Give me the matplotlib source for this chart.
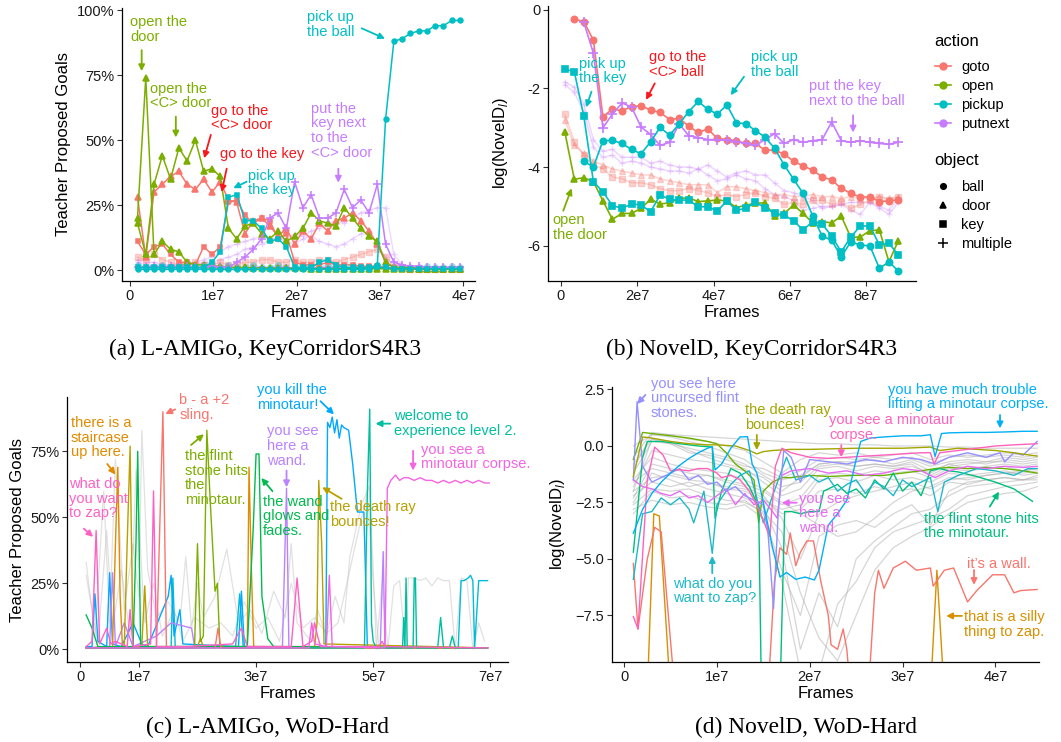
import numpy as np
import matplotlib
matplotlib.use("Agg")
import matplotlib.pyplot as plt
from matplotlib.lines import Line2D
from matplotlib.ticker import FuncFormatter

plt.rcParams['font.family'] = ['Liberation Sans', 'DejaVu Sans']
plt.rcParams['mathtext.fontset'] = 'custom'
plt.rcParams['mathtext.rm'] = 'Liberation Sans'
plt.rcParams['mathtext.it'] = 'Liberation Sans:italic'

GOTO, OPEN, PICKUP, PUTNEXT = "#F8766D", "#7CAE00", "#00BFC4", "#C77CFF"
GRAY = "#BDBDBD"

# ---------------- (a) L-AMIGo, KeyCorridorS4R3  (frames in 1e7, values in %)
frames_a = np.linspace(0.09, 3.96, 40)
a_open_door = [20, 74, 6, 11, 8, 7, 3, 2, 2, 1.5, 1.5, 1, 1, 1, 0.8, 0.8, 0.8, 0.7, 0.7, 0.7,
               0.7, 0.6, 0.6, 0.6, 0.6, 0.6, 0.5, 0.5, 0.5, 0.5, 0.5, 0.4, 0.4, 0.4, 0.4, 0.4, 0.3, 0.3, 0.3, 0.3]
a_open_cdoor = [18, 6, 33, 44, 35, 47, 42, 50, 38, 39, 36, 16, 12, 17, 18, 14, 12, 15, 11, 13,
                16, 22, 19, 18, 17, 24, 20, 16, 13, 11, 3, 1, 1, 0.8, 0.6, 0.5, 0.5, 0.4, 0.4, 0.4]
a_goto_cdoor = [28, 5, 30, 33, 36, 38, 33, 31, 35, 30, 34, 27, 26, 14, 19, 20, 17, 13, 16, 10,
                15, 12, 18, 15, 19, 20, 22, 19, 15, 10, 3, 1, 0.8, 0.6, 0.5, 0.5, 0.4, 0.4, 0.4, 0.4]
a_goto_key = [11, 6, 9, 10, 6, 3, 3, 2, 9, 6, 9, 26, 27, 21, 18, 20, 19, 12, 14, 3,
              2, 2, 2, 3, 2, 2, 2, 1.5, 1.5, 1.5, 1, 0.8, 0.5, 0.5, 0.5, 0.4, 0.4, 0.4, 0.4, 0.4]
a_pick_key = [1, 1, 1, 1, 1, 1, 1, 1, 1, 3, 7, 28, 29, 19, 19, 16, 11, 12, 9, 1,
              1, 1, 3, 4, 2, 1, 1, 1, 1, 1, 1, 0.5, 0.5, 0.5, 0.5, 0.5, 0.5, 0.5, 0.5, 0.5]
a_pick_ball = [0.3, 0.3, 0.3, 0.3, 0.3, 0.3, 0.3, 0.3, 0.3, 0.3, 0.3, 0.3, 0.3, 0.3, 0.3, 0.3, 0.3, 0.3, 0.3, 0.3,
               0.3, 0.3, 0.3, 0.3, 0.3, 0.3, 0.3, 0.3, 0.5, 2, 58, 88, 89, 91, 92, 92, 94, 94, 96, 96]
a_putnext = [1, 1, 1.5, 1, 1.5, 1, 1.5, 1, 1, 1.5, 1, 1, 3, 5, 8, 12, 20, 22, 16, 34,
             24, 29, 20, 20, 22, 31, 24, 27, 22, 33, 10, 3, 2, 1.5, 1.5, 1, 1, 1, 1, 1]
a_faint_put1 = [4, 3, 3, 2, 2, 2, 2, 2, 3, 3, 4, 5, 6, 8, 9, 10, 11, 12, 12, 14,
                13, 15, 16, 18, 19, 18, 20, 22, 23, 24, 24, 6, 2, 1.5, 1, 1, 1, 1, 1, 1]
a_faint_put2 = [3, 2, 2, 2, 2, 2, 3, 3, 4, 5, 7, 9, 10, 11, 12, 13, 12, 12, 11, 10,
                12, 13, 11, 10, 9, 10, 12, 14, 15, 10, 5, 2, 1.5, 1, 1, 1, 1, 1, 1, 1]
a_faint_goto = [5, 4, 6, 4, 3, 2, 2, 3, 2, 2, 3, 2, 2, 3, 3, 4, 4, 3, 3, 4,
                3, 3, 4, 4, 3, 4, 5, 6, 7, 8, 5, 1, 1, 0.5, 0.5, 0.5, 0.5, 0.5, 0.5, 0.5]
a_faint_pick = [2, 1, 1, 2, 1, 2, 2, 1, 2, 2, 1, 2, 1, 1, 2, 1, 1, 2, 1, 1,
                2, 1, 1, 2, 1, 1, 2, 1, 1, 2, 1, 1, 1, 1, 1, 1.5, 1, 1, 1.5, 1]
a_low_put = [1, 1, 0.8, 1, 0.9, 1, 1, 0.8, 1, 1, 0.9, 1, 1, 0.8, 1, 1, 0.9, 1, 1, 0.8,
             1, 1, 0.9, 1, 1, 0.8, 1, 1, 0.9, 1, 1, 0.8, 0.8, 0.7, 0.8, 0.7, 0.6, 0.7, 0.6, 0.6]

# ---------------- (b) NovelD, KeyCorridorS4R3  (frames in 1e7, log values)
frames_b = np.linspace(0.1, 8.85, 36)
nan = np.nan
b_goto_ball = [nan, -0.23, -0.30, -0.77, -2.72, -2.52, -2.57, -2.46, -2.44, -2.55, -2.61, -2.79,
               -2.76, -2.96, -3.12, -3.03, -3.27, -3.30, -3.33, -3.40, -3.40, -3.57, -3.57, -3.67,
               -3.85, -3.97, -4.08, -4.25, -4.33, -4.54, -4.67, -4.76, -4.76, -4.88, -4.86, -4.83]
b_putnext = [nan, nan, -0.32, -1.1, -3.0, -2.65, -2.37, -2.47, -2.98, -3.17, -3.45, -3.37,
             -2.9, -3.2, -3.25, -3.3, -3.3, -3.32, -3.35, -3.4, -3.45, -3.3, -3.15, -3.4,
             -3.3, -3.37, -3.33, -3.3, -2.85, -3.33, -3.37, -3.33, -3.37, -3.4, -3.42, -3.37]
b_pick_ball = [nan, nan, -3.85, -4.0, -3.33, -3.32, -3.4, -3.55, -3.66, -3.36, -2.99, -3.19,
               -2.9, -2.59, -2.33, -2.53, -2.65, -2.42, -2.87, -2.9, -3.07, -3.24, -3.52, -3.94,
               -4.31, -4.67, -5.24, -5.76, -5.86, -6.29, -5.9, -5.99, -6.0, -6.58, -6.41, -6.65]
b_pick_key = [-1.51, -1.57, -2.71, -4.37, -4.63, -4.98, -5.05, -4.94, -4.96, -5.14, -4.71, -4.82,
              -4.84, -4.84, -5.01, -5.01, -5.12, -4.86, -5.1, -5.05, -4.9, -5.03, -5.18, -5.22,
              -5.37, -5.6, -5.39, -5.45, -5.76, -6.16, -5.78, -5.5, -5.5, -5.98, -5.94, -6.24]
b_open_door = [-3.1, -4.31, -4.27, -4.37, -4.86, -5.33, -5.18, -5.18, -5.05, -4.82, -4.94, -4.91,
               -4.8, -4.78, -4.88, -4.86, -4.84, -4.86, -5.03, -4.97, -4.92, -4.91, -5.25, -5.18,
               -4.97, -5.18, -5.42, -5.39, -5.42, -5.25, -5.79, -5.78, -5.62, -5.6, -6.41, -5.87]
b_faint_put1 = [-1.83, -1.97, -2.4, -3.3, -3.6, -3.55, -3.75, -3.75, -3.75, -3.9, -3.85, -3.95,
                -4.0, -4.0, -4.05, -3.95, -4.1, -4.25, -4.15, -4.1, -4.2, -4.2, -4.4, -4.6,
                -4.65, -4.75, -4.85, -5.05, -5.0, -4.95, -4.9, -4.9, -4.9, -5.0, -5.1, -4.8]
b_faint_put2 = [-1.9, -2.1, -2.6, -3.5, -3.75, -3.7, -3.9, -3.85, -3.9, -4.0, -4.05, -4.1,
                -4.1, -4.15, -4.05, -4.2, -4.35, -4.3, -4.2, -4.3, -4.35, -4.55, -4.7, -4.75,
                -4.85, -5.1, -5.05, -5.0, -5.0, -4.95, -5.1, -5.2, -4.9, -5.05, -5.2, -4.9]
b_faint_door = [-2.8, -3.45, -3.65, -3.85, -3.95, -4.05, -4.1, -4.15, -4.2, -4.2, -4.3, -4.35,
                -4.4, -4.45, -4.45, -4.45, -4.65, -4.5, -4.5, -4.55, -4.6, -4.65, -4.7, -4.7,
                -4.75, -4.75, -4.7, -4.75, -4.75, -4.8, -4.75, -4.8, -4.8, -4.75, -4.8, -4.75]
b_faint_key = [-2.65, -3.35, -3.7, -3.95, -4.05, -4.25, -4.3, -4.4, -4.4, -4.45, -4.55, -4.6,
               -4.6, -4.55, -4.6, -4.65, -4.75, -4.7, -4.75, -4.7, -4.65, -4.75, -4.8, -4.95,
               -4.9, -4.95, -4.85, -4.85, -4.95, -4.9, -5.05, -4.95, -4.85, -4.75, -4.85, -4.75]

# ---------------- (c) L-AMIGo, WoD-Hard  (frames in 1e7, values in %)
c_zap_x = [0.1, 0.2, 0.27, 0.33, 0.45, 0.52, 0.6, 0.8, 0.85, 0.9, 1.2, 1.25, 1.3, 1.8, 2.6, 2.75, 2.85,
           3.6, 3.7, 3.8, 3.95, 4.0, 4.05, 4.1, 5.1, 5.15, 5.2, 6.95]
c_zap_y = [1, 3, 45, 2, 8, 2, 3, 1, 15, 1, 2, 60, 1, 1, 2, 8, 1, 1, 27, 1, 3, 10, 5, 1, 1, 3, 1, 0.5]
c_stair_x = [0.1, 0.55, 0.6, 0.64, 0.68, 0.72, 2.85, 2.88, 2.92, 2.96, 6.95]
c_stair_y = [0.5, 1, 40, 69, 20, 0.5, 1, 69, 30, 1, 0.5]
c_sling_x = [0.1, 1.3, 1.41, 1.47, 2.3, 2.35, 2.4, 6.95]
c_sling_y = [0.5, 0.5, 90, 0.5, 0.5, 8, 0.5, 0.5]
c_death_x = [0.1, 0.75, 0.8, 0.85, 0.9, 1.05, 1.1, 1.15, 2.0, 2.05, 2.1, 4.0, 4.04, 4.07, 4.12, 4.16, 6.95]
c_death_y = [0.5, 0.5, 40, 77, 1, 1, 24, 1, 1, 4, 1, 1, 10, 64, 40, 2, 0.5]
c_glow_x = [0.1, 0.2, 0.3, 0.9, 0.95, 0.98, 1.03, 2.85, 2.95, 3.0, 3.05, 3.1, 3.2, 3.3, 6.95]
c_glow_y = [13, 8, 1, 1, 40, 75, 1, 1, 45, 74, 74, 20, 4, 1, 0.5]
c_flint_x = [0.1, 1.95, 2.0, 2.05, 2.1, 2.16, 2.22, 2.3, 2.34, 2.38, 2.45, 6.95]
c_flint_y = [0.5, 0.5, 40, 3, 5, 83, 55, 22, 25, 2, 0.5, 0.5]
c_kill_x = [0.1, 0.2, 0.25, 0.3, 0.45, 0.5, 0.55, 0.7, 0.9, 1.05, 1.15, 1.5, 1.55, 1.6, 1.7, 1.75,
            2.7, 2.75, 2.8, 4.15, 4.19, 4.22, 4.26, 4.3, 4.34, 4.38, 4.42, 4.46, 4.5, 4.58, 4.65,
            4.73, 4.84, 4.9, 6.95]
c_kill_y = [1, 1, 21, 3, 1, 29, 2, 1, 10, 2, 1, 20, 28, 5, 15, 2, 1, 22, 1, 0.5, 0.5, 86, 84, 88,
            82, 87, 80, 85, 84, 83, 70, 52, 52, 0.5, 0.5]
c_welcome_x = [0.1, 4.85, 4.9, 4.94, 4.97, 5.0, 5.05, 5.5, 5.52, 5.54, 5.56, 5.58, 5.6, 5.68, 5.7,
               5.72, 5.74, 6.1, 6.15, 6.2, 6.3, 6.35, 6.4, 6.95]
c_welcome_y = [0.5, 0.5, 60, 91, 10, 3, 0.5, 0.5, 12, 0.5, 27, 0.5, 0.5, 0.5, 27, 27, 0.5, 0.5, 12,
               0.5, 0.5, 5, 0.5, 0.5]
c_cyan_x = [0.1, 1.55, 1.58, 1.62, 2.65, 2.72, 2.78, 6.45, 6.5, 6.55, 6.62, 6.66, 6.7, 6.73, 6.8, 6.95]
c_cyan_y = [0.5, 0.5, 27, 1, 1, 21, 1, 0.5, 26, 26, 27, 28, 26, 0.5, 26, 26]
c_wand_x = [0.1, 0.5, 0.55, 0.6, 0.75, 0.9, 1.3, 1.55, 1.9, 1.95, 2.0, 3.45, 3.52, 3.56, 5.12, 5.17, 5.2, 6.95]
c_wand_y = [0.5, 1, 29, 1, 10, 1, 5, 10, 8, 1, 1, 1, 61, 1, 1, 37, 0.5, 0.5]
c_corpse_x = [0.1, 3.9, 3.95, 4.0, 4.2, 4.25, 4.3, 5.2, 5.24, 5.3, 5.38, 5.45, 5.52, 5.6, 5.7, 5.8,
              5.9, 6.0, 6.1, 6.2, 6.3, 6.4, 6.5, 6.6, 6.7, 6.8, 6.9, 6.98]
c_corpse_y = [0.5, 0.5, 10, 2, 1, 28, 1, 0.5, 61, 64, 66, 64, 65, 65, 64, 65, 64, 64, 63, 64, 63,
              64, 63, 64, 63, 64, 63, 63]
c_gray1_x = [0.1, 0.25, 0.4, 0.5, 0.6, 0.75, 0.9, 1.0, 1.05, 1.15, 1.3, 1.5, 1.7, 1.8, 1.9, 2.0,
             2.1, 2.3, 2.5, 2.7, 2.9, 3.1, 3.3, 3.5, 3.6, 3.7, 3.9, 4.1]
c_gray1_y = [33, 5, 60, 10, 72, 15, 40, 20, 83, 30, 12, 18, 10, 35, 8, 25, 12, 20, 38, 10, 15, 6,
             22, 12, 40, 10, 4, 2]
c_gray2_x = [0.1, 0.3, 0.45, 0.55, 0.7, 0.85, 0.95, 1.1, 1.25, 1.4, 1.6, 1.75, 1.95, 2.2, 2.4, 2.6,
             2.8, 3.0, 3.2, 3.4, 3.6, 3.8, 4.0, 4.2, 4.4, 4.6, 4.8, 4.93, 5.0, 5.05]
c_gray2_y = [28, 2, 45, 8, 30, 5, 68, 10, 25, 5, 15, 3, 12, 8, 10, 5, 18, 8, 12, 3, 25, 8, 12, 6,
             10, 30, 50, 62, 30, 2]
c_gray3_x = [5.05, 5.15, 5.25, 5.35, 5.45, 5.55, 5.6, 5.7, 5.8, 5.9, 6.0, 6.1, 6.2, 6.3, 6.4, 6.5,
             6.6, 6.7, 6.8, 6.9]
c_gray3_y = [0, 25, 0, 24, 26, 0, 27, 27, 26, 27, 24, 27, 26, 26, 0, 27, 26, 0, 10, 3]
c_gray4_x = [3.9, 4.05, 4.2, 4.35, 4.5, 4.6, 4.7, 4.8, 4.9, 5.0, 5.1]
c_gray4_y = [2, 15, 5, 20, 10, 35, 45, 55, 60, 25, 0]

# ---------------- (d) NovelD, WoD-Hard  (frames in 1e7, log values)
d_blue_x = [0.1, 0.2, 0.3, 0.4, 0.5, 0.6, 0.7, 0.8, 0.9, 0.95, 0.98, 1.05, 1.15, 1.25, 1.33, 1.38,
            1.43, 1.5, 1.6, 1.68, 1.75, 1.85, 1.95, 2.05, 2.1, 2.2, 2.3, 2.4, 2.5, 2.55, 2.65, 2.8,
            3.0, 3.2, 3.3, 3.35, 3.42, 3.5, 3.7, 3.9, 4.1, 4.3, 4.45]
d_blue_y = [-3.86, -2.8, -2.1, -1.6, -1.2, -0.85, -0.55, -0.3, -0.1, -0.03, -1.06, -0.8, -0.1, 0.4,
            0.41, -0.8, -1.2, -2.5, -4.5, -5.8, -5.6, -5.9, -5.8, -5.93, -5.5, -3.5, -3.0, -2.4,
            -0.6, 0.2, 0.35, 0.4, 0.45, 0.45, 0.5, -0.47, 0.55, 0.58, 0.6, 0.6, 0.62, 0.65, 0.65]
d_olive_x = [0.1, 0.2, 0.3, 0.5, 0.7, 0.9, 1.0, 1.2, 1.35, 1.43, 1.5, 1.6, 1.8, 2.0, 2.5, 3.0, 3.3,
             3.4, 3.6, 3.8, 4.0, 4.2, 4.45]
d_olive_y = [-1.36, 0.4, 0.35, 0.2, 0.1, 0.05, 0.05, 0.0, -0.2, -0.35, -0.25, -0.2, -0.15, -0.15,
             -0.1, -0.1, -0.05, -0.2, -0.1, -0.15, -0.2, -0.3, -0.45]
d_pink_x = [0.1, 0.15, 0.25, 0.33, 0.42, 0.5, 0.6, 0.7, 0.8, 0.9, 1.0, 1.05, 1.15, 1.25, 1.35, 1.45,
            1.52, 1.57, 1.63, 1.7, 1.8, 1.9, 2.0, 2.2, 2.4, 2.6, 2.8, 3.0, 3.2, 3.3, 3.34, 3.4, 3.6,
            3.8, 4.0, 4.2, 4.45]
d_pink_y = [-7.55, -8.1, -1.5, -0.05, -0.4, -1.1, -1.05, -1.1, -1.0, -1.0, -1.2, -1.4, -1.3, -1.5,
            -2.0, -2.8, -3.5, -4.0, -0.9, -0.1, -0.3, -0.4, -0.5, -0.55, -0.5, -0.45, -0.4, -0.35,
            -0.3, -0.3, -0.8, -0.3, -0.2, -0.1, 0.0, 0.05, 0.1]
d_lav_x = [0.1, 0.14, 0.2, 0.3, 0.4, 0.5, 0.6, 0.7, 0.8, 0.9, 1.0, 1.1, 1.2, 1.3, 1.4, 1.5, 1.55,
           1.61, 1.66, 1.72, 1.8, 1.9, 2.0, 2.2, 2.4, 2.6, 2.8, 3.0, 3.2, 3.35, 3.5, 3.7, 3.9, 4.05,
           4.1, 4.2, 4.3, 4.45]
d_lav_y = [-1.5, 1.96, -0.9, -1.6, -1.4, -1.2, -1.0, -1.5, -1.3, -1.7, -1.6, -2.0, -1.8, -2.2, -2.4,
           -2.6, -3.8, -7.2, -3.0, -0.2, -0.5, -1.6, -0.6, -0.7, -0.8, -0.6, -0.7, -0.5, -0.6, -0.8,
           -0.5, -0.3, -0.5, -0.3, -0.7, -0.3, -0.4, 0.2]
d_mag_x = [0.1, 0.2, 0.3, 0.4, 0.5, 0.6, 0.7, 0.8, 0.9, 1.0, 1.1, 1.2, 1.3, 1.4, 1.5, 1.6, 1.65, 1.7,
           1.8, 2.0, 2.2, 2.4, 2.6, 2.8, 3.0, 3.2, 3.35, 3.5, 3.7, 3.9, 4.1, 4.3, 4.45]
d_mag_y = [-1.5, -1.8, -1.9, -2.1, -2.2, -2.0, -2.3, -2.2, -2.5, -2.2, -1.9, -2.6, -2.1, -2.6, -2.4,
           -2.9, -3.2, -1.3, -1.1, -1.0, -1.2, -1.1, -1.3, -1.2, -1.0, -1.1, -1.4, -1.1, -0.9, -1.0,
           -0.9, -0.95, -0.9]
d_cyan_x = [0.1, 0.2, 0.3, 0.4, 0.5, 0.6, 0.7, 0.75, 0.86, 0.95, 1.0, 1.15, 1.25, 1.35, 1.5, 1.6,
            1.75, 1.85, 2.0, 2.1, 2.2, 2.3, 2.4, 2.5, 2.6, 2.7, 2.8, 2.9, 3.0, 3.1, 3.2, 3.3, 3.38,
            3.45, 3.6, 3.8, 4.0, 4.2, 4.35, 4.45]
d_cyan_y = [-5.9, -3.0, -2.9, -2.3, -2.6, -2.3, -2.8, -3.4, -2.0, -4.75, -2.6, -1.7, -1.3, -1.1,
            -3.4, -2.2, -0.5, -1.5, -1.3, -1.6, -1.4, -2.0, -1.7, -1.5, -2.1, -1.6, -1.8, -2.2, -1.5,
            -1.8, -1.6, -1.4, -2.9, -1.6, -1.3, -1.0, -1.1, -1.3, -1.0, -1.0]
d_green_x = [0.1, 0.2, 0.25, 0.4, 0.6, 0.8, 0.95, 0.98, 1.05, 1.15, 1.25, 1.35, 1.45, 1.48, 1.55,
             1.62, 1.68, 1.73, 1.8, 1.9, 2.0, 2.1, 2.15, 2.3, 2.4, 2.5, 2.6, 2.7, 2.8, 2.9, 3.0,
             3.1, 3.2, 3.3, 3.4, 3.5, 3.6, 3.8, 4.0, 4.2, 4.4]
d_green_y = [-4.7, -0.5, 0.2, 0.2, 0.1, 0.0, -0.05, -3.2, -2.0, -1.0, -1.2, -1.8, -2.7, -11, -11,
             -11, -11, -2.9, -2.9, -3.0, -2.9, -2.9, -2.0, -1.7, -2.1, -1.9, -2.3, -1.5, -1.9, -1.2,
             -2.0, -1.6, -2.2, -1.1, -1.0, -1.1, -1.15, -1.35, -1.6, -1.9, -2.45]
d_lime_x = [0.1, 0.2, 0.3, 0.5, 0.7, 0.9, 1.0, 1.1, 1.2, 1.3, 1.4, 1.45, 1.5, 1.6, 1.7, 1.8, 2.0,
            2.2, 2.5, 2.8, 3.0, 3.2, 3.35, 3.5, 3.7, 3.9, 4.1, 4.3, 4.45]
d_lime_y = [-0.6, 0.6, 0.55, 0.45, 0.35, 0.2, 0.1, -0.3, -0.8, -1.1, -1.5, -3.4, -2.0, -1.6, -1.4,
            -1.4, -1.3, -1.35, -1.3, -1.3, -1.2, -1.1, -1.0, -0.95, -1.0, -0.95, -1.0, -1.1, -1.2]
d_red_x = [0.1, 0.15, 0.25, 0.33, 0.4, 0.55, 1.0, 1.55, 1.62, 1.68, 1.75, 1.79, 1.85, 1.9, 1.97,
           2.04, 2.12, 2.2, 2.23, 2.3, 2.36, 2.4, 2.44, 2.55, 2.63, 2.7, 2.74, 2.8, 2.9, 3.03, 3.15,
           3.3, 3.33, 3.45, 3.55, 3.7, 3.8, 3.97, 4.1, 4.2, 4.27, 4.45]
d_red_y = [-5.2, -8.1, -5.0, -3.6, -3.8, -11, -12, -11, -6.0, -4.5, -4.8, -3.85, -5.3, -4.7, -4.2,
           -4.2, -6.0, -7.5, -8.8, -9.0, -8.1, -9.0, -11, -12, -11, -6.5, -5.5, -6.3, -5.4, -5.1,
           -5.5, -5.4, -6.2, -5.5, -5.4, -6.9, -6.4, -5.7, -5.7, -6.5, -6.4, -6.35]
d_orange_x = [0.1, 0.25, 0.32, 0.38, 0.5, 1.0, 3.3, 3.37, 3.45, 4.45]
d_orange_y = [-12, -11, -3.0, -3.1, -11, -12, -11, -5.5, -11, -12]
d_gray_x = [0.1, 0.3, 0.5, 0.7, 0.9, 1.1, 1.3, 1.5, 1.7, 1.9, 2.1, 2.3, 2.5, 2.7, 2.9, 3.1, 3.3,
            3.5, 3.7, 3.9, 4.1, 4.3, 4.45]
d_gray = [
    [-1.0, 0.5, 0.4, 0.2, 0.0, -0.3, -0.6, -1.2, -1.5, -1.3, -0.8, -0.7, -0.7, -0.6, -0.8, -0.6, -0.9, -0.7, -0.6, -0.7, -0.5, -0.6, -0.5],
    [-2.0, 0.3, 0.2, -0.2, -0.5, -0.8, -1.0, -1.6, -2.2, -1.9, -1.0, -0.9, -1.1, -0.9, -1.0, -0.9, -1.2, -0.8, -1.0, -0.9, -0.8, -0.9, -0.8],
    [-2.5, -1.2, -1.5, -1.8, -1.6, -1.9, -2.0, -2.4, -2.8, -2.6, -1.5, -1.4, -1.6, -1.3, -1.5, -1.4, -1.6, -1.2, -1.3, -1.2, -1.1, -1.3, -1.2],
    [-1.5, -0.5, -0.8, -1.0, -1.1, -1.2, -1.5, -1.9, -2.5, -3.0, -3.5, -4.0, -3.8, -3.2, -2.5, -2.0, -1.8, -1.4, -1.5, -1.3, -1.2, -1.1, -1.0],
    [-3.0, -2.0, -2.3, -2.2, -2.5, -2.6, -2.4, -3.0, -5.5, -7.5, -4.0, -3.5, -3.3, -3.6, -3.0, -2.6, -3.5, -2.0, -1.6, -1.5, -1.4, -1.5, -1.3],
    [-0.5, 0.6, 0.5, 0.3, 0.2, 0.0, -0.2, -0.7, -1.2, -0.6, -0.3, -0.4, -0.3, -0.5, -0.4, -0.3, -0.6, -0.4, -0.5, -0.4, -0.3, -0.4, -0.3],
    [-2.2, -1.6, -1.8, -1.6, -1.9, -2.1, -2.3, -2.7, -4.5, -9.0, -6.5, -8.0, -5.0, -4.2, -3.6, -3.0, -2.8, -2.2, -1.8, -1.7, -1.6, -1.5, -1.5],
    [-1.8, -0.2, -0.4, -0.6, -0.7, -0.9, -1.1, -1.4, -2.0, -1.4, -0.8, -0.7, -0.9, -0.8, -0.9, -0.8, -1.3, -0.9, -0.8, -0.7, -0.7, -0.8, -0.7],
    [-2.8, -2.4, -2.6, -2.5, -2.7, -2.8, -2.6, -3.2, -6.0, -10, -10, -7.0, -6.0, -4.5, -3.8, -3.5, -3.2, -2.8, -2.2, -2.0, -1.8, -1.7, -1.6],
    [0.0, 0.5, 0.5, 0.45, 0.4, 0.35, 0.3, 0.25, 0.2, 0.15, 0.1, 0.1, 0.05, 0.05, 0.0, 0.0, 0.0, -0.05, -0.05, -0.1, -0.1, -0.1, -0.1],
    [-1.2, 0.2, 0.1, -0.1, -0.3, -0.5, -0.8, -1.3, -1.8, -1.6, -0.9, -0.8, -0.9, -0.8, -0.9, -0.7, -1.1, -0.8, -0.7, -0.8, -0.6, -0.7, -0.6],
    [-2.3, -0.8, -1.0, -1.2, -1.3, -1.5, -1.7, -2.0, -2.6, -2.3, -1.3, -1.2, -1.3, -1.1, -1.2, -1.1, -1.4, -1.0, -1.1, -1.0, -0.9, -1.1, -1.0],
    [-1.6, -1.0, -1.2, -1.4, -1.3, -1.6, -1.8, -2.2, -3.2, -5.0, -3.0, -2.5, -2.2, -2.0, -1.8, -1.6, -1.9, -1.5, -1.4, -1.3, -1.2, -1.2, -1.1],
    [-0.8, 0.3, 0.1, -0.3, -0.4, -0.6, -0.9, -1.0, -1.4, -1.1, -0.6, -0.5, -0.6, -0.5, -0.6, -0.5, -0.8, -0.5, -0.4, -0.5, -0.4, -0.5, -0.4],
    [-2.6, -1.9, -2.0, -1.9, -2.2, -2.4, -2.5, -2.9, -3.8, -6.5, -8.5, -9.5, -7.5, -5.5, -4.5, -4.0, -3.6, -3.0, -2.5, -2.3, -2.1, -2.0, -1.8],
    [-2.0, -1.4, -1.3, -1.5, -1.6, -1.8, -1.9, -2.3, -3.0, -2.8, -2.0, -1.9, -2.1, -1.8, -2.0, -1.9, -2.2, -1.6, -1.7, -1.5, -1.4, -1.5, -1.4],
]

W, H = 1061, 742
fig = plt.figure(figsize=(W / 100, H / 100), dpi=100)


def box(l, r, b, t):
    return [l / W, 1 - b / H, (r - l) / W, (b - t) / H]


def style(ax):
    for s in ['top', 'right']:
        ax.spines[s].set_visible(False)
    for s in ['left', 'bottom']:
        ax.spines[s].set_linewidth(0.9)
    ax.tick_params(length=3.5, width=0.8, labelsize=10.5, pad=2, color='#333333', labelcolor='#1a1a1a')


def note(ax, x, y, s, c, tail=None, head=None):
    ax.text(x, y, s, color=c, fontsize=10.5, ha='left', va='top', linespacing=1.05)
    if tail is not None:
        ax.annotate('', xy=head, xytext=tail,
                    arrowprops=dict(arrowstyle='-|>', color=c, lw=1.3, mutation_scale=9,
                                    shrinkA=0, shrinkB=0))


# ---- panel a
ax = fig.add_axes(box(122, 475, 281, 8))
style(ax)
for ys, c, m in [(a_faint_put1, PUTNEXT, '+'), (a_faint_put2, PUTNEXT, '+'),
                 (a_faint_goto, GOTO, 's'), (a_faint_pick, PICKUP, 'o')]:
    ax.plot(frames_a, ys, color=c, alpha=0.3, lw=1, marker=m, ms=4)
series_a = [(a_low_put, PUTNEXT, '+', 5), (a_goto_key, GOTO, 's', 3.5), (a_goto_cdoor, GOTO, '^', 4),
            (a_open_door, OPEN, '^', 4), (a_open_cdoor, OPEN, '^', 4), (a_putnext, PUTNEXT, '+', 6),
            (a_pick_key, PICKUP, 's', 3.5), (a_pick_ball, PICKUP, 'o', 3.5)]
for ys, c, m, ms in series_a:
    ax.plot(frames_a, ys, color=c, lw=1.1, marker=m, ms=ms, mew=1.1)
ax.set_xlim(-0.096, 4.14)
ax.set_ylim(-4.2, 100.8)
ax.set_xticks([0, 1, 2, 3, 4], ['0', '1e7', '2e7', '3e7', '4e7'])
ax.set_yticks([0, 25, 50, 75, 100], ['0%', '25%', '50%', '75%', '100%'])
ax.set_xlabel('Frames', fontsize=12, labelpad=2)
ax.set_ylabel('Teacher Proposed Goals', fontsize=12)
ax.yaxis.set_label_coords(-0.145, 0.5)
note(ax, 0.0, 98, 'open the\ndoor', OPEN, (0.14, 84.6), (0.14, 76.5))
note(ax, 0.24, 72.4, 'open the\n<C> door', OPEN, (0.55, 59), (0.55, 51))
note(ax, 0.97, 64, 'go to the\n<C> door', '#F8171B', (0.97, 52), (0.89, 43))
note(ax, 1.08, 47.4, 'go to the key', '#F8171B', (1.16, 39), (1.1, 30))
note(ax, 1.41, 39, 'pick up\nthe key', PICKUP, (1.4, 34), (1.24, 31.5))
note(ax, 2.12, 100, 'pick up\nthe ball', PICKUP, (2.78, 93), (3.06, 89))
note(ax, 2.17, 64.7, 'put the\nkey next\nto the\n<C> door', PUTNEXT, (2.5, 39), (2.5, 33.6))

# ---- panel b
ax = fig.add_axes(box(548, 916, 281, 6))
style(ax)
for ys, c, m in [(b_faint_put1, PUTNEXT, '+'), (b_faint_put2, PUTNEXT, '+'),
                 (b_faint_door, GOTO, '^'), (b_faint_key, GOTO, 's')]:
    ax.plot(frames_b, ys, color=c, alpha=0.3, lw=1.1, marker=m, ms=5)
for ys, c, m, ms in [(b_open_door, OPEN, '^', 5), (b_pick_key, PICKUP, 's', 5),
                     (b_goto_ball, GOTO, 'o', 4.5), (b_putnext, PUTNEXT, '+', 7),
                     (b_pick_ball, PICKUP, 'o', 4.5)]:
    ax.plot(frames_b, ys, color=c, lw=1.2, marker=m, ms=ms, mew=1.2)
ax.set_xlim(-0.34, 9.31)
ax.set_ylim(-6.9, 0.1)
ax.set_xticks([0, 2, 4, 6, 8], ['0', '2e7', '4e7', '6e7', '8e7'])
ax.set_yticks([0, -2, -4, -6])
ax.yaxis.set_major_formatter(FuncFormatter(lambda v, p: f"{v:.0f}"))
ax.set_xlabel('Frames', fontsize=12, labelpad=2)
ax.set_ylabel(r'$\mathrm{log}\left(\mathrm{NovelD}_{\mathit{l}}\right)$', fontsize=12)
ax.yaxis.set_label_coords(-0.10, 0.5)
note(ax, 0.48, -1.19, 'pick up\nthe key', PICKUP, (0.8, -2.08), (0.66, -2.48))
note(ax, 2.31, -1.02, 'go to the\n<C> ball', '#F8171B', (2.46, -1.87), (2.23, -2.29))
note(ax, 4.98, -1.02, 'pick up\nthe ball', PICKUP, (4.8, -1.7), (4.45, -2.17))
note(ax, 6.51, -1.76, 'put the key\nnext to the ball', PUTNEXT, (7.66, -2.68), (7.66, -3.12))
note(ax, -0.22, -5.18, 'open\nthe door', OPEN, (0.06, -5.11), (0.28, -4.54))

# legends (titles drawn separately so the spacing matches ggplot)
fig.text(934 / W, 1 - 42 / H, 'action', fontsize=12, ha='left', va='center')
fig.text(934 / W, 1 - 161 / H, 'object', fontsize=12, ha='left', va='center')
act = [Line2D([], [], color=c, marker='o', ms=5, lw=1.2) for c in [GOTO, OPEN, PICKUP, PUTNEXT]]
fig.legend(act, ['goto', 'open', 'pickup', 'putnext'], loc='upper left',
           bbox_to_anchor=(935 / W, 1 - 60 / H), frameon=False, fontsize=10.5,
           handlelength=1.1, handletextpad=0.7, labelspacing=0.34, borderaxespad=0, borderpad=0)
obj = [Line2D([], [], color='black', marker=m, ms=ms, lw=0, mew=1.1)
       for m, ms in [('o', 4), ('^', 5), ('s', 4.5), ('+', 7)]]
fig.legend(obj, ['ball', 'door', 'key', 'multiple'], loc='upper left',
           bbox_to_anchor=(935 / W, 1 - 180 / H), frameon=False, fontsize=10.5,
           handlelength=1.1, handletextpad=0.7, labelspacing=0.34, borderaxespad=0, borderpad=0)

# ---- panel c
ax = fig.add_axes(box(67, 508, 662, 397))
style(ax)
for xs, ys in [(c_gray1_x, c_gray1_y), (c_gray2_x, c_gray2_y), (c_gray3_x, c_gray3_y), (c_gray4_x, c_gray4_y)]:
    ax.plot(xs, ys, color=GRAY, alpha=0.45, lw=0.9)
series_c = [(c_cyan_x, c_cyan_y, '#00BCD8'), (c_kill_x, c_kill_y, '#00A9FF'),
            (c_wand_x, c_wand_y, '#B983FF'), (c_stair_x, c_stair_y, '#E08B00'),
            (c_death_x, c_death_y, '#B9A000'), (c_glow_x, c_glow_y, '#00BB4E'),
            (c_flint_x, c_flint_y, '#7CAE00'), (c_sling_x, c_sling_y, '#F8766D'),
            (c_welcome_x, c_welcome_y, '#00BFA0'), (c_zap_x, c_zap_y, '#FF61C3'),
            (c_corpse_x, c_corpse_y, '#F564E3')]
for xs, ys, c in series_c:
    ax.plot(xs, ys, color=c, lw=1.0)
ax.set_xlim(-0.227, 7.3)
ax.set_ylim(-4.84, 95.6)
ax.set_xticks([0, 1, 3, 5, 7], ['0', '1e7', '3e7', '5e7', '7e7'])
ax.set_yticks([0, 25, 50, 75], ['0%', '25%', '50%', '75%'])
ax.set_xlabel('Frames', fontsize=12, labelpad=2)
ax.set_ylabel('Teacher Proposed Goals', fontsize=12)
ax.yaxis.set_label_coords(-0.095, 0.5)
note(ax, -0.16, 88.3, 'there is a\nstaircase\nup here.', '#E08B00', (0.46, 70.2), (0.6, 66.2))
note(ax, -0.2, 65.2, 'what do\nyou want\nto zap?', '#FF61C3', (0.06, 45.7), (0.22, 42.6))
note(ax, 1.69, 97.1, 'b - a +2\nsling.', '#F8766D', (1.62, 90.9), (1.45, 89.2))
note(ax, 1.78, 75.8, 'the flint\nstone hits\nthe\nminotaur.', '#7CAE00', (1.89, 77.4), (2.11, 81.5))
note(ax, 3.12, 58.6, 'the wand\nglows and\nfades.', '#00BB4E', (3.28, 59.9), (3.09, 64.9))
note(ax, 3.19, 85.2, 'you see\nhere a\nwand.', '#B983FF', (3.52, 67.7), (3.52, 61.4))
note(ax, 4.27, 56.4, 'the death ray\nbounces!', '#B9A000', (4.46, 57), (4.13, 61.4))
note(ax, 3.01, 100.9, 'you kill the\nminotaur!', '#00A9FF', (4.1, 94), (4.33, 89))
note(ax, 5.36, 90.9, 'welcome to\nexperience level 2.', '#00BFA0', (5.29, 85.5), (5.04, 85.5))
note(ax, 5.82, 78.3, 'you see a\nminotaur corpse.', '#F564E3', (5.68, 75.2), (5.68, 67.7))

# ---- panel d
ax = fig.add_axes(box(612, 1039, 662, 387))
style(ax)
for ys in d_gray:
    ax.plot(d_gray_x, ys, color='#ADADAD', alpha=0.5, lw=0.9)
series_d = [(d_orange_x, d_orange_y, '#D89000'), (d_red_x, d_red_y, '#F8766D'),
            (d_lime_x, d_lime_y, '#6BB100'), (d_green_x, d_green_y, '#00BF7D'),
            (d_cyan_x, d_cyan_y, '#1FB8C8'), (d_mag_x, d_mag_y, '#E76BF3'),
            (d_lav_x, d_lav_y, '#9590FF'), (d_olive_x, d_olive_y, '#A3A500'),
            (d_pink_x, d_pink_y, '#FF62BC'), (d_blue_x, d_blue_y, '#00B0F6')]
for xs, ys, c in series_d:
    ax.plot(xs, ys, color=c, lw=1.0)
ax.set_xlim(-0.13, 4.47)
ax.set_ylim(-9.56, 2.61)
ax.set_xticks([0, 1, 2, 3, 4], ['0', '1e7', '2e7', '3e7', '4e7'])
ax.set_yticks([2.5, 0, -2.5, -5, -7.5])
ax.yaxis.set_major_formatter(FuncFormatter(lambda v, p: f"{v:.1f}".replace('-', '\u2212')))
ax.set_xlabel('Frames', fontsize=12, labelpad=2)
ax.set_ylabel(r'$\mathrm{log}\left(\mathrm{NovelD}_{\mathit{l}}\right)$', fontsize=12)
ax.yaxis.set_label_coords(-0.103, 0.5)
note(ax, 0.29, 3.07, 'you see here\nuncursed flint\nstones.', '#9590FF', (0.23, 2.26), (0.14, 1.86))
note(ax, 1.3, 1.89, 'the death ray\nbounces!', '#A3A500', (1.43, 0.49), (1.43, -0.18))
note(ax, 2.21, 1.45, 'you see a minotaur\ncorpse.', '#FF62BC', (2.34, 0.04), (2.34, -0.5))
note(ax, 2.84, 2.8, 'you have much trouble\nlifting a minotaur corpse.', '#00B0F6', (4.05, 1.37), (4.05, 0.78))
note(ax, 1.88, -2.02, 'you see\nhere a\nwand.', '#E76BF3', (1.86, -2.51), (1.7, -2.51))
note(ax, 0.53, -5.78, 'what do you\nwant to zap?', '#1FB8C8', (0.95, -5.63), (0.95, -4.87))
note(ax, 3.23, -2.9, 'the flint stone hits\nthe minotaur.', '#00BF7D', (3.94, -2.68), (4.04, -2.02))
note(ax, 3.69, -4.9, 'it\u2019s a wall.', '#F8766D', (3.77, -5.49), (3.77, -6.15))
note(ax, 3.66, -7.26, 'that is a silly\nthing to zap.', '#D89000', (3.64, -7.52), (3.47, -7.52))

# ---- captions
for x, y, s in [(265, 349, '(a) L-AMIGo, KeyCorridorS4R3'), (752, 349, '(b) NovelD, KeyCorridorS4R3'),
                (267, 727, '(c) L-AMIGo, WoD-Hard'), (806, 727, '(d) NovelD, WoD-Hard')]:
    fig.text(x / W, 1 - y / H, s, ha='center', va='center', family=['Liberation Serif', 'DejaVu Serif'],
             fontsize=16.8)

fig.savefig('out.png', dpi=100)
